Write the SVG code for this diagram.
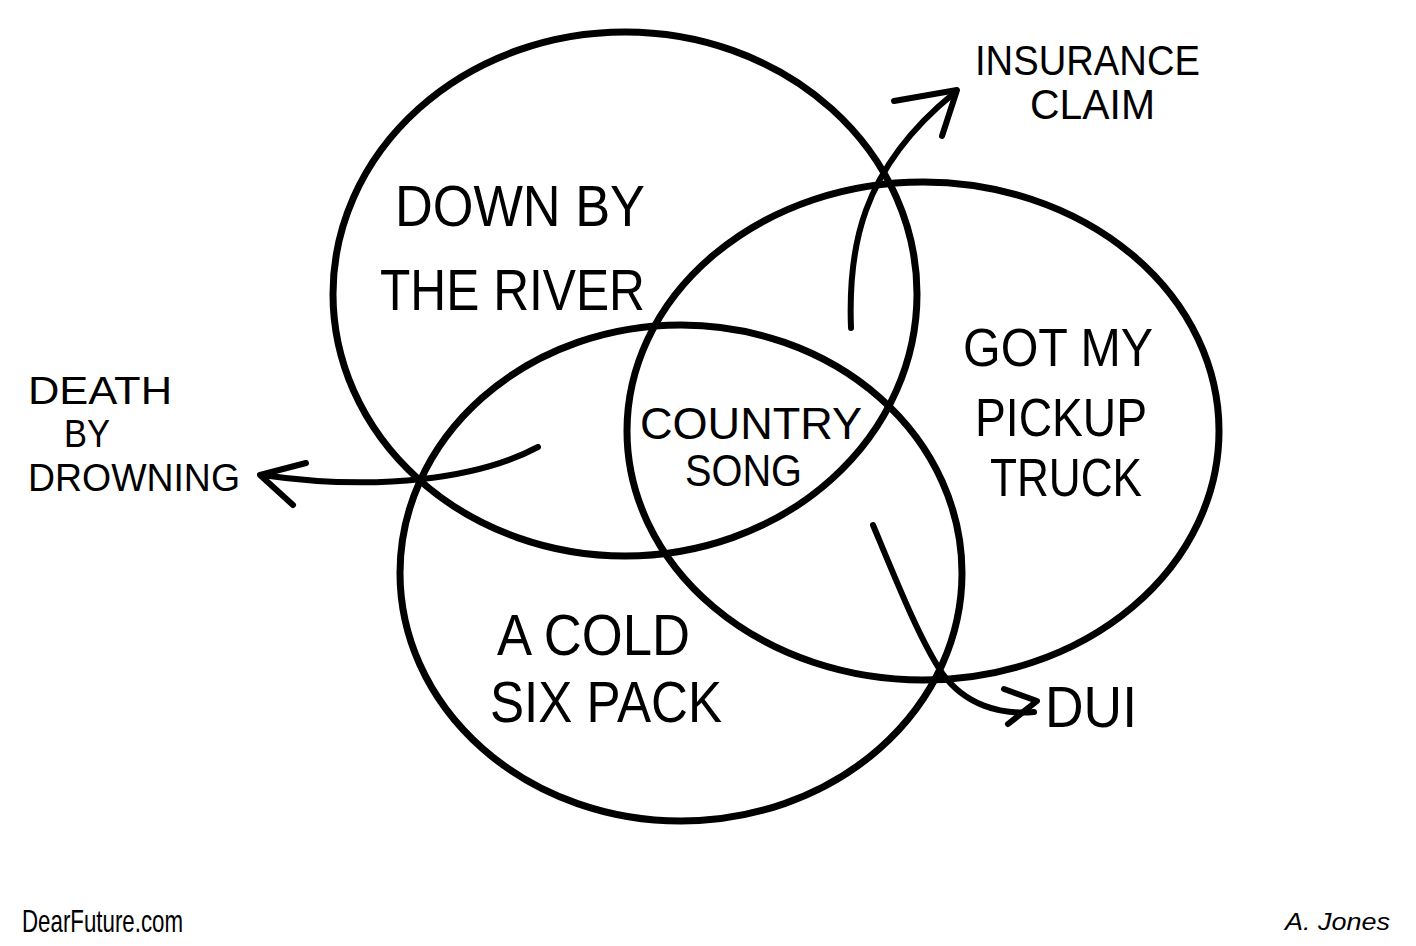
<svg xmlns="http://www.w3.org/2000/svg" width="1416" height="946" viewBox="0 0 1416 946">
<style>
.c{fill:none;stroke:#000;stroke-width:7}
.a{fill:none;stroke:#000;stroke-width:6;stroke-linecap:round;stroke-linejoin:round}
text{font-family:"Liberation Sans",Arial,sans-serif;fill:#000}
.big{font-size:58px}
.tr{font-size:54px}
.mid{font-size:44px}
.sm{font-size:42px}
.dr{font-size:38px}
</style>
<rect width="1416" height="946" fill="#fff"/>
<g id="river">
<ellipse class="c" cx="625" cy="294" rx="292" ry="262"/>
<text class="big" x="395" y="226" textLength="250" lengthAdjust="spacingAndGlyphs">DOWN BY</text>
<text class="big" x="380" y="310" textLength="265" lengthAdjust="spacingAndGlyphs">THE RIVER</text>
</g>
<g id="truck">
<ellipse class="c" cx="923" cy="431" rx="296" ry="249"/>
<text class="tr" x="963" y="366" textLength="190" lengthAdjust="spacingAndGlyphs">GOT MY</text>
<text class="tr" x="975" y="436" textLength="172" lengthAdjust="spacingAndGlyphs">PICKUP</text>
<text class="tr" x="990" y="496" textLength="152" lengthAdjust="spacingAndGlyphs">TRUCK</text>
</g>
<g id="sixpack">
<ellipse class="c" cx="681" cy="573" rx="281" ry="248"/>
<text class="big" x="497" y="655" textLength="193" lengthAdjust="spacingAndGlyphs">A COLD</text>
<text class="big" x="490" y="722" textLength="232" lengthAdjust="spacingAndGlyphs">SIX PACK</text>
</g>
<g id="country">
<text class="mid" x="640" y="439" textLength="222" lengthAdjust="spacingAndGlyphs">COUNTRY</text>
<text class="mid" x="685" y="486" textLength="117" lengthAdjust="spacingAndGlyphs">SONG</text>
</g>
<g id="insurance">
<text class="sm" x="975" y="75" textLength="225" lengthAdjust="spacingAndGlyphs">INSURANCE</text>
<text class="sm" x="1030" y="119" textLength="125" lengthAdjust="spacingAndGlyphs">CLAIM</text>
</g>
<g id="drowning">
<text class="dr" x="28" y="404" textLength="144" lengthAdjust="spacingAndGlyphs">DEATH</text>
<text class="dr" x="64" y="447" textLength="46" lengthAdjust="spacingAndGlyphs">BY</text>
<text class="dr" x="28" y="491" textLength="212" lengthAdjust="spacingAndGlyphs">DROWNING</text>
</g>
<g id="dui">
<text class="big" x="1045" y="727" textLength="92" lengthAdjust="spacingAndGlyphs">DUI</text>
</g>
<g id="connectors">
<path class="a" d="M851,328 C848,250 860,170 953,94"/>
<path class="a" d="M894,101 L957,90 L942,136"/>
<path class="a" d="M538,447 C480,478 380,492 262,475"/>
<path class="a" d="M306,463 L260,475 L293,505"/>
<path class="a" d="M873,525 C898,585 920,640 942,673 C965,705 1000,715 1034,712"/>
<path class="a" d="M1004,689 L1037,701 L1008,724"/>
</g>
<g id="footer">
<text x="22" y="932" font-size="32" textLength="161" lengthAdjust="spacingAndGlyphs">DearFuture.com</text>
<text x="1285" y="930" font-size="24" font-style="italic" textLength="105" lengthAdjust="spacingAndGlyphs">A. Jones</text>
</g>
</svg>
